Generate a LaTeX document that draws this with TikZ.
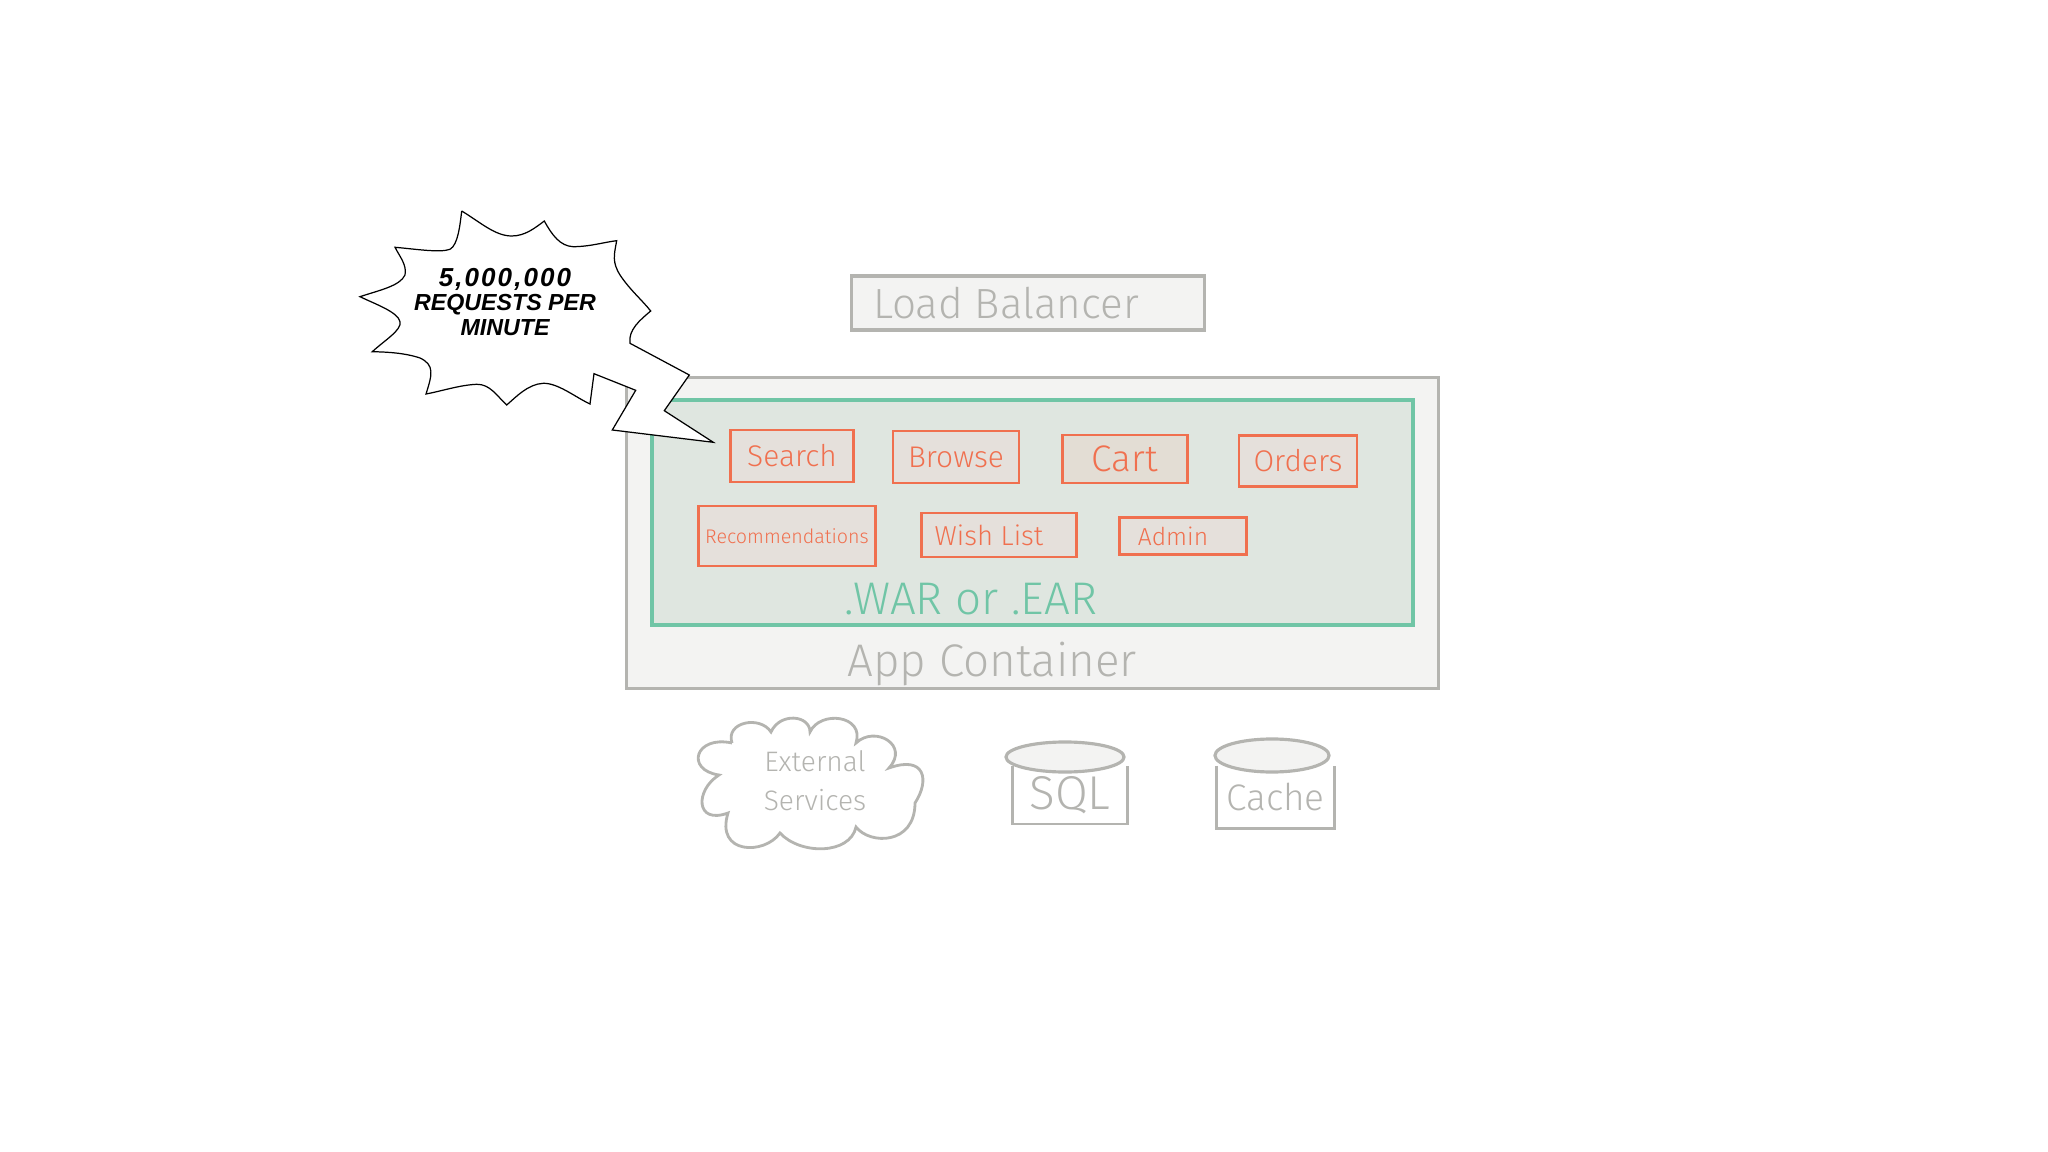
\documentclass[tikz,border=0pt]{standalone}
\usepackage{fontspec}
\setmainfont{Liberation Sans}
\newfontfamily\handfont[UprightFont=* Light]{Fira Sans}
\usepackage{tikz}
\usetikzlibrary{shapes.geometric}
\definecolor{pencil}{HTML}{B4B4B0}
\definecolor{paper}{HTML}{F3F3F2}
\definecolor{warline}{HTML}{70C5A6}
\definecolor{warfill}{HTML}{DFE6E0}
\definecolor{svcline}{HTML}{F0704F}
\definecolor{svcfill}{HTML}{E5E0DB}
\definecolor{cartfill}{HTML}{E3DDD4}

\begin{document}
\begin{tikzpicture}[x=0.01cm,y=-0.01cm,
 sketch/.style={draw=pencil,line width=0.9pt,fill=paper,inner sep=0pt},
 warbox/.style={draw=warline,line width=1.1pt,fill=warfill,inner sep=0pt},
 svc/.style={draw=svcline,line width=0.8pt,fill=svcfill,inner sep=0pt,text=svcline,font=\handfont\fontsize{8.5}{10}\selectfont},
 hand/.style={text=pencil,inner sep=0pt,align=center,font=\handfont\fontsize{#1}{#1}\selectfont},
 db/.style={text=pencil,inner sep=0pt,line width=0.8pt,font=\handfont\fontsize{9}{10}\selectfont}]
\useasboundingbox (0,0) rectangle (2048,1152);
\node[sketch,minimum width=3.52cm,minimum height=0.54cm,text=pencil,font=\handfont\fontsize{12}{14}\selectfont] (lb) at (1028,303) {Load Balancer\hspace{0.44cm}\mbox{}};
\node[sketch,minimum width=8.11cm,minimum height=3.1cm] (app) at (1032.5,533) {};
\node[warbox,minimum width=7.6cm,minimum height=2.25cm] (war) at (1032.5,512.5) {};
\node[hand=13] (applabel) at (992,664) {App Container};
\node[hand=13,text=warline] (warlabel) at (971,599) {.WAR or .EAR};
% services
\node[svc,minimum width=1.23cm,minimum height=0.52cm] (search) at (792,456) {Search};
\node[svc,minimum width=1.26cm,minimum height=0.52cm] (browse) at (956,457) {Browse};
\node[svc,minimum width=1.25cm,minimum height=0.48cm,fill=cartfill,font=\handfont\fontsize{10.5}{12}\selectfont] (cart) at (1125,459) {Cart};
\node[svc,minimum width=1.18cm,minimum height=0.51cm] (orders) at (1298,461) {Orders};
\node[svc,minimum width=1.77cm,minimum height=0.6cm,font=\handfont\fontsize{5.6}{8}\selectfont] (recs) at (787,536) {Recommendations};
\node[svc,minimum width=1.55cm,minimum height=0.44cm,font=\handfont\fontsize{7.8}{8}\selectfont] (wish) at (999,535) {Wish List\hspace{0.2cm}\mbox{}};
\node[svc,minimum width=1.27cm,minimum height=0.37cm,font=\handfont\fontsize{7}{8}\selectfont] (admin) at (1183,536) {Admin\hspace{0.2cm}\mbox{}};
% stores
\draw[pencil,line width=0.8pt,fill=white] (732,743) .. controls (725,722) and (760,715) .. (771,732) .. controls (780,712) and (810,715) .. (810,732) .. controls (820,710) and (865,715) .. (856,743) .. controls (875,725) and (910,745) .. (889,768) .. controls (925,755) and (930,780) .. (915,803) .. controls (915,845) and (870,845) .. (856,827) .. controls (850,855) and (800,855) .. (780,833) .. controls (765,855) and (715,855) .. (728,813) .. controls (695,825) and (695,790) .. (719,775) .. controls (685,770) and (695,735) .. (732,743);
\node[hand=8] (external) at (815,781) {External\\[3pt]Services};
\node[db,minimum width=1.12cm,minimum height=0.55cm,font=\handfont\fontsize{13.5}{14}\selectfont] (sqlbody) at (1070,795) {SQL};
\draw[pencil,line width=0.8pt] (sqlbody.north west)--(sqlbody.south west)--(sqlbody.south east)--(sqlbody.north east);
\node[ellipse,draw=pencil,fill=paper,line width=0.9pt,minimum width=1.18cm,minimum height=0.3cm,inner sep=0pt] (sqltop) at (1065,757) {};
\node[db,minimum width=1.15cm,minimum height=0.6cm,font=\handfont\fontsize{10.5}{11}\selectfont] (cachebody) at (1275.5,797) {Cache};
\draw[pencil,line width=0.8pt] (cachebody.north west)--(cachebody.south west)--(cachebody.south east)--(cachebody.north east);
\node[ellipse,draw=pencil,fill=paper,line width=0.9pt,minimum width=1.14cm,minimum height=0.33cm,inner sep=0pt] (cachetop) at (1272,755.5) {};
% burst
\draw[black,line width=0.35pt,fill=white] (461.7,211) .. controls (480,222) and (495,236) .. (511.7,236) .. controls (525,236) and (535,228) .. (544.3,221) .. controls (552,235) and (560,246) .. (573,246.7) .. controls (590,246.7) and (605,242) .. (616.7,240.7) .. controls (614,255) and (612,262) .. (620,275) .. controls (630,290) and (642,300) .. (650.7,311) .. controls (640,320) and (628,330) .. (630,343.3) -- (689.3,375) -- (664.3,410.7) -- (713.3,442.3) -- (612.3,430) -- (635.7,390.3) -- (594,373.7) -- (590,404) .. controls (575,397) and (558,383) .. (543.3,383.3) .. controls (528,384) and (516,397) .. (506.7,405) .. controls (497,396) and (490,384) .. (476.7,384.3) .. controls (460,385) and (442,391) .. (426,394) .. controls (432,375) and (435,365) .. (420,358) .. controls (405,353) and (388,352) .. (372.3,351.7) .. controls (385,340) and (402,330) .. (400,321.7) .. controls (398,312) and (375,304) .. (360,296.7) .. controls (380,290) and (400,286) .. (405,275) .. controls (407,265) and (400,257) .. (395,247.3) .. controls (415,249) and (440,253) .. (450,249.3) .. controls (458,245) and (460,225) .. (461.7,211);
\node[inner sep=0pt,align=center,font=\bfseries\itshape\fontsize{6.6}{7}\selectfont] (burst) at (505,302) {{\addfontfeatures{LetterSpace=8}\fontsize{7.4}{7}\selectfont 5,000,000}\\REQUESTS PER\\MINUTE};
\end{tikzpicture}
\end{document}
